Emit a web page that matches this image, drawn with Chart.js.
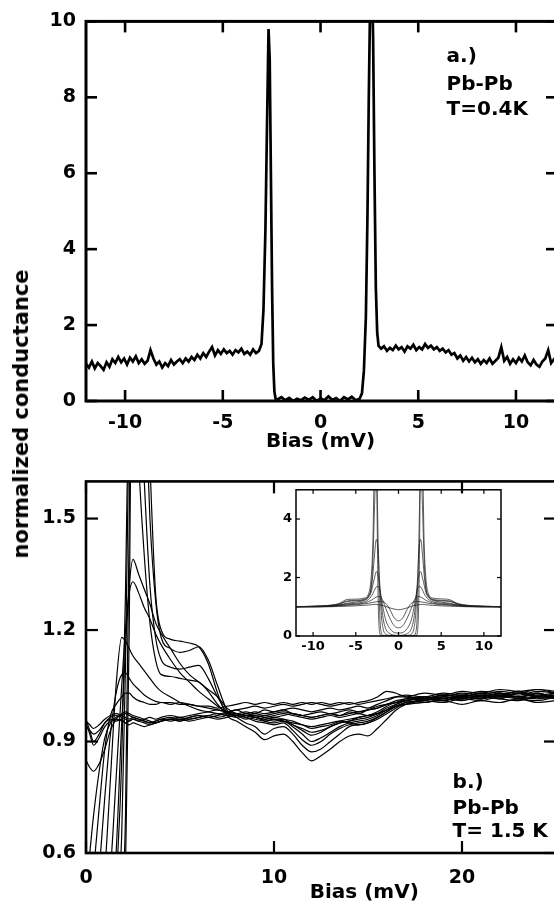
<!DOCTYPE html>
<html>
<head>
<meta charset="utf-8">
<script src="https://cdn.jsdelivr.net/npm/chart.js@4.4.1/dist/chart.umd.min.js"></script>
<style>
  html, body { margin: 0; padding: 0; background: #fff; }
  body { width: 554px; height: 907px; overflow: hidden; position: relative; }
  canvas { position: absolute; }
  #yTitle {
    position: absolute; left: 21px; top: 414px;
    transform: translate(-50%, -50%) rotate(-90deg);
    font: bold 21px "DejaVu Sans", sans-serif; white-space: nowrap; color: #000;
  }
</style>
</head>
<body>
<canvas id="chartA" width="600" height="460" style="left:0;top:0"></canvas>
<canvas id="chartB" width="600" height="447" style="left:0;top:460px"></canvas>
<canvas id="chartInset" width="250" height="175" style="left:260px;top:478px"></canvas>
<div id="yTitle">normalized conductance</div>
<script>
// ---- panel a: Pb-Pb, T = 0.4 K ----
const biasA = [
  -12.0,-11.85,-11.7,-11.55,-11.4,-11.25,-11.1,-10.95,-10.8,-10.65,
  -10.5,-10.35,-10.2,-10.05,-9.9,-9.75,-9.6,-9.45,-9.3,-9.15,
  -9.0,-8.85,-8.7,-8.55,-8.4,-8.25,-8.1,-7.95,-7.8,-7.65,
  -7.5,-7.35,-7.2,-7.05,-6.9,-6.75,-6.6,-6.45,-6.3,-6.15,
  -6.0,-5.85,-5.7,-5.55,-5.4,-5.25,-5.1,-4.95,-4.8,-4.65,
  -4.5,-4.35,-4.2,-4.05,-3.9,-3.75,-3.6,-3.45,-3.3,-3.15,
  -3.02,-2.92,-2.82,-2.74,-2.66,-2.6,-2.54,-2.48,-2.42,-2.36,-2.3,
  -2.2,-2.0,-1.8,-1.6,-1.4,-1.2,-1.0,-0.8,-0.6,-0.4,-0.2,
  0.0,0.2,0.4,0.6,0.8,1.0,1.2,1.4,1.6,1.8,2.0,
  2.12,2.22,2.32,2.4,2.47,2.54,2.62,2.69,2.76,2.83,2.9,2.97,
  3.1,3.25,3.4,3.55,3.7,3.85,4.0,4.15,4.3,4.45,
  4.6,4.75,4.9,5.05,5.2,5.35,5.5,5.65,5.8,5.95,
  6.1,6.25,6.4,6.55,6.7,6.85,7.0,7.15,7.3,7.45,
  7.6,7.75,7.9,8.05,8.2,8.35,8.5,8.65,8.8,8.95,
  9.1,9.25,9.4,9.55,9.7,9.85,10.0,10.15,10.3,10.45,
  10.6,10.75,10.9,11.05,11.2,11.35,11.5,11.65,11.8,11.95,12.1
];
const gA = [
  0.98,0.88,1.04,0.86,1.0,0.92,0.82,1.02,0.9,1.1,
  1.0,1.16,1.02,1.12,0.96,1.14,1.04,1.18,1.0,1.1,
  0.98,1.06,1.34,1.12,0.96,1.04,0.88,1.0,0.92,1.08,
  0.96,1.04,1.1,1.0,1.12,1.04,1.16,1.08,1.22,1.12,
  1.26,1.16,1.3,1.42,1.2,1.34,1.24,1.36,1.26,1.32,
  1.22,1.34,1.28,1.38,1.24,1.3,1.22,1.36,1.26,1.32,
  1.5,2.4,4.5,7.2,9.8,9.0,6.0,3.0,1.0,0.25,0.06,
  0.04,0.1,0.02,0.08,0.0,0.06,0.02,0.09,0.03,0.1,0.0,
  0.07,0.02,0.12,0.03,0.08,0.0,0.1,0.04,0.11,0.02,0.06,
  0.2,0.8,2.2,4.8,8.0,10.6,11.2,9.6,6.0,3.0,1.8,1.45,
  1.38,1.44,1.32,1.4,1.34,1.46,1.36,1.42,1.3,1.44,
  1.38,1.48,1.34,1.42,1.36,1.5,1.4,1.46,1.36,1.42,
  1.32,1.38,1.28,1.34,1.22,1.26,1.12,1.2,1.06,1.16,
  1.04,1.14,1.02,1.1,0.98,1.08,1.0,1.12,0.98,1.06,
  1.14,1.42,1.06,1.16,0.98,1.1,1.0,1.14,1.04,1.2,
  1.02,0.94,1.08,0.96,0.9,1.04,1.12,1.34,1.0,1.1,1.04
];

// ---- panel b: Pb-Pb, T = 1.5 K, several contacts ----
const biasB = [0,0.2,0.4,0.7,1.0,1.3,1.6,1.9,2.1,2.3,2.5,2.8,3.1,3.4,3.7,4.0,4.5,5.0,5.5,6.0,
  6.5,7.0,7.5,8.0,8.5,9.0,9.5,10,10.5,11,11.5,12,12.5,13,13.5,14,14.5,15,15.5,16,
  16.5,17,18,19,20,21,22,23,24,25];
const gB1 = [0,0,0,0,0,0.05,0.15,0.35,0.55,1.2,2.4,2.6,2.1,1.65,1.3,1.2,1.175,1.17,1.165,1.155,
  1.11,1.03,0.97,0.955,0.94,0.925,0.905,0.915,0.92,0.9,0.87,0.848,0.862,0.88,0.9,0.915,0.92,0.915,0.935,0.96,
  0.985,1.0,1.015,1.02,1.03,1.025,1.035,1.03,1.04,1.03];
const gB2 = [0,0,0,0,0.02,0.1,0.25,0.45,0.7,1.5,2.3,2.4,1.9,1.5,1.28,1.18,1.15,1.14,1.145,1.155,
  1.12,1.05,0.985,0.965,0.95,0.94,0.92,0.935,0.94,0.92,0.89,0.872,0.88,0.9,0.92,0.94,0.945,0.95,0.96,0.975,
  0.99,1.005,1.01,1.025,1.02,1.03,1.025,1.035,1.025,1.03];
const gB3 = [0,0,0.02,0.05,0.12,0.25,0.4,0.65,1.1,1.8,2.2,1.95,1.6,1.32,1.18,1.12,1.1,1.095,1.1,1.105,
  1.07,1.02,0.98,0.97,0.965,0.955,0.95,0.945,0.95,0.93,0.905,0.89,0.9,0.92,0.935,0.945,0.95,0.955,0.965,0.98,
  0.995,1.005,1.01,1.02,1.015,1.025,1.02,1.03,1.02,1.025];
const gB4 = [0,0,0.05,0.12,0.22,0.36,0.52,0.85,1.3,1.9,2.0,1.65,1.4,1.22,1.12,1.08,1.075,1.07,1.065,1.06,
  1.035,1.0,0.975,0.97,0.96,0.965,0.955,0.95,0.955,0.94,0.92,0.9,0.91,0.925,0.94,0.95,0.955,0.96,0.97,0.985,
  1.0,1.01,1.015,1.01,1.02,1.015,1.025,1.02,1.03,1.015];
const gB5 = [0,0,0.05,0.15,0.28,0.42,0.6,0.95,1.15,1.32,1.39,1.35,1.31,1.27,1.22,1.19,1.15,1.11,1.08,1.06,
  1.04,1.02,0.99,0.975,0.97,0.965,0.96,0.955,0.96,0.945,0.935,0.925,0.93,0.94,0.95,0.955,0.96,0.965,0.975,0.99,
  1.0,1.01,1.015,1.025,1.02,1.015,1.03,1.02,1.025,1.02];
const gB6 = [0,0.05,0.12,0.25,0.38,0.55,0.8,1.05,1.2,1.3,1.33,1.3,1.26,1.23,1.19,1.16,1.12,1.085,1.06,1.035,
  1.015,0.995,0.98,0.975,0.97,0.97,0.965,0.96,0.955,0.945,0.93,0.917,0.925,0.94,0.95,0.955,0.965,0.97,0.98,0.995,
  1.005,1.01,1.02,1.015,1.025,1.02,1.03,1.015,1.02,1.025];
const gB7 = [0.05,0.12,0.22,0.38,0.55,0.8,1.05,1.18,1.17,1.15,1.13,1.11,1.09,1.07,1.05,1.035,1.02,1.005,0.995,0.985,
  0.98,0.975,0.97,0.975,0.97,0.965,0.96,0.965,0.96,0.955,0.945,0.935,0.94,0.945,0.955,0.96,0.965,0.97,0.975,0.985,
  0.995,1.005,1.01,1.02,1.015,1.025,1.02,1.02,1.03,1.015];
const gB8 = [0.15,0.25,0.38,0.55,0.75,0.92,1.03,1.08,1.085,1.07,1.055,1.04,1.025,1.015,1.008,1.005,1.005,1.0,1.0,0.995,
  0.99,0.985,0.98,0.985,0.975,0.98,0.975,0.98,0.985,0.975,0.97,0.965,0.97,0.975,0.97,0.98,0.975,0.985,0.99,1.0,
  1.005,1.015,1.02,1.01,1.025,1.02,1.015,1.03,1.02,1.025];
const gB9 = [0.3,0.42,0.55,0.72,0.88,0.97,1.0,1.02,1.03,1.03,1.02,1.01,1.005,1.0,1.0,1.005,1.0,1.005,1.0,0.995,
  0.995,0.99,0.995,1.0,1.005,1.0,1.005,1.0,1.005,1.0,1.005,1.0,1.005,1.0,1.005,1.0,1.005,1.01,1.02,1.035,
  1.03,1.02,1.015,1.025,1.02,1.03,1.025,1.035,1.02,1.03];
const gB10 = [0.5,0.6,0.7,0.82,0.91,0.95,0.965,0.97,0.975,0.97,0.965,0.96,0.955,0.95,0.955,0.96,0.965,0.96,0.965,0.97,
  0.965,0.97,0.975,0.97,0.975,0.97,0.965,0.97,0.975,0.97,0.965,0.96,0.965,0.97,0.965,0.97,0.975,0.97,0.975,0.985,
  0.995,1.0,1.01,1.005,1.015,1.01,1.02,1.015,1.01,1.02];
const gB11 = [0.85,0.83,0.82,0.84,0.88,0.93,0.96,0.975,0.98,0.975,0.97,0.965,0.96,0.955,0.95,0.955,0.96,0.955,0.96,0.965,
  0.97,0.965,0.97,0.975,0.97,0.965,0.97,0.965,0.97,0.975,0.97,0.965,0.97,0.975,0.97,0.975,0.98,0.985,0.99,1.0,
  1.01,1.015,1.02,1.01,1.02,1.015,1.025,1.02,1.015,1.02];
const gB12 = [0.95,0.92,0.89,0.91,0.94,0.955,0.96,0.955,0.95,0.945,0.95,0.945,0.94,0.945,0.95,0.955,0.96,0.965,0.96,0.965,
  0.97,0.975,0.97,0.965,0.97,0.975,0.97,0.975,0.98,0.975,0.97,0.975,0.98,0.975,0.98,0.985,0.98,0.985,0.995,1.0,
  1.005,1.01,1.005,1.015,1.01,1.02,1.015,1.01,1.02,1.015];
const gB13 = [0.96,0.93,0.9,0.92,0.95,0.965,0.97,0.965,0.96,0.955,0.96,0.955,0.95,0.945,0.95,0.955,0.96,0.955,0.965,0.97,
  0.965,0.97,0.98,0.975,0.98,0.975,0.985,0.98,0.985,0.99,0.985,0.98,0.985,0.99,0.985,0.99,0.995,0.99,1.0,1.01,
  1.02,1.025,1.02,1.03,1.025,1.035,1.03,1.025,1.035,1.03];
const gB14 = [0.94,0.93,0.92,0.93,0.95,0.96,0.955,0.96,0.95,0.955,0.96,0.955,0.96,0.965,0.96,0.965,0.97,0.965,0.97,0.975,
  0.98,0.985,0.98,0.985,0.99,0.995,0.99,0.995,1.0,0.995,1.0,1.005,1.0,0.995,1.0,1.005,1.0,1.005,1.01,1.015,
  1.02,1.02,1.03,1.025,1.035,1.03,1.04,1.035,1.04,1.035];
const gB15 = [0.955,0.945,0.935,0.945,0.96,0.97,0.975,0.97,0.965,0.96,0.965,0.96,0.955,0.95,0.955,0.96,0.955,0.96,0.955,0.96,
  0.965,0.96,0.965,0.97,0.965,0.96,0.955,0.96,0.955,0.95,0.945,0.94,0.945,0.95,0.955,0.95,0.945,0.95,0.965,0.98,
  0.995,1.0,1.005,1.01,1.0,1.01,1.005,1.015,1.005,1.01];

// ---- inset: full bias range ----
const biasIn = [-12,-10,-8,-7,-6,-5,-4,-3.5,-3.2,-3,-2.8,-2.6,-2.4,-2.2,-2,-1.8,-1.5,-1,-0.5,0,
  0.5,1,1.5,1.8,2,2.2,2.4,2.6,2.8,3,3.2,3.5,4,5,6,7,8,10,12];
const gIn1 = [1.0,1.02,1.05,1.1,1.25,1.26,1.3,1.45,2.0,3.2,6.0,6.0,1.5,0.1,0,0,0,0,0,0,
  0,0,0,0,0,0.1,1.5,6.0,6.0,3.2,2.0,1.45,1.3,1.27,1.24,1.1,1.05,1.02,1.0];
const gIn2 = [1.0,1.01,1.04,1.08,1.2,1.22,1.26,1.38,1.7,2.6,4.5,6.0,3.5,0.8,0.1,0.02,0,0,0,0,
  0,0,0,0.02,0.1,0.8,3.5,6.0,4.5,2.6,1.7,1.38,1.26,1.22,1.2,1.08,1.04,1.01,1.0];
const gIn3 = [1.0,1.02,1.05,1.1,1.18,1.2,1.24,1.36,1.6,2.1,2.8,3.3,3.0,1.8,0.7,0.25,0.06,0.02,0,0,
  0,0.02,0.06,0.25,0.7,1.8,3.0,3.3,2.8,2.1,1.6,1.36,1.24,1.2,1.18,1.1,1.05,1.02,1.0];
const gIn4 = [1.0,1.01,1.03,1.06,1.12,1.16,1.22,1.32,1.5,1.75,2.0,2.2,2.1,1.7,1.1,0.6,0.25,0.08,0.03,0.02,
  0.03,0.08,0.25,0.6,1.1,1.7,2.1,2.2,2.0,1.75,1.5,1.32,1.22,1.16,1.12,1.06,1.03,1.01,1.0];
const gIn5 = [1.0,1.0,1.02,1.05,1.1,1.12,1.17,1.25,1.35,1.45,1.58,1.68,1.7,1.6,1.3,0.95,0.55,0.25,0.12,0.1,
  0.12,0.25,0.55,0.95,1.3,1.6,1.7,1.68,1.58,1.45,1.35,1.25,1.17,1.12,1.1,1.05,1.02,1.0,1.0];
const gIn6 = [1.0,1.0,1.02,1.04,1.07,1.09,1.13,1.18,1.22,1.26,1.3,1.33,1.35,1.35,1.3,1.2,0.95,0.6,0.35,0.28,
  0.35,0.6,0.95,1.2,1.3,1.35,1.35,1.33,1.3,1.26,1.22,1.18,1.13,1.09,1.07,1.04,1.02,1.0,1.0];
const gIn7 = [1.0,1.0,1.01,1.03,1.05,1.07,1.1,1.12,1.14,1.15,1.16,1.17,1.18,1.18,1.18,1.17,1.12,0.9,0.62,0.52,
  0.62,0.9,1.12,1.17,1.18,1.18,1.18,1.17,1.16,1.15,1.14,1.12,1.1,1.07,1.05,1.03,1.01,1.0,1.0];
const gIn8 = [1.0,1.0,1.0,1.01,1.02,1.03,1.05,1.06,1.07,1.08,1.08,1.08,1.07,1.06,1.05,1.04,1.01,0.96,0.92,0.9,
  0.92,0.96,1.01,1.04,1.05,1.06,1.07,1.08,1.08,1.08,1.07,1.06,1.05,1.03,1.02,1.01,1.0,1.0,1.0];

const notesA = [
  {text: 'a.)', x: 6.45, y: 8.92},
  {text: 'Pb-Pb', x: 6.45, y: 8.2},
  {text: 'T=0.4K', x: 6.45, y: 7.53}
];
const notesB = [
  {text: 'b.)', x: 19.5, y: 0.776},
  {text: 'Pb-Pb', x: 19.5, y: 0.706},
  {text: 'T= 1.5 K', x: 19.5, y: 0.642}
];

const FONT = '"DejaVu Sans", sans-serif';
const isMajor = (v, step) => Math.abs(v / step - Math.round(v / step)) < 1e-6;
const pts = (xs, ys) => xs.map((b, i) => ({x: b, y: ys[i]}));

// inward tick marks on all four sides plus the box
function frameTicks(cfg) {
  return {
    id: 'frameTicks',
    afterDatasetsDraw(chart) {
      const {ctx, chartArea: a, scales} = chart;
      const w = cfg.tickWidth;
      ctx.save();
      ctx.fillStyle = '#000';
      scales.x.ticks.forEach(t => {
        const p = scales.x.getPixelForValue(t.value);
        const len = isMajor(t.value, cfg.xMajor) ? cfg.xLong : cfg.xShort;
        ctx.fillRect(p - w / 2, a.bottom - len, w, len);
        ctx.fillRect(p - w / 2, a.top, w, len);
      });
      scales.y.ticks.forEach(t => {
        const p = scales.y.getPixelForValue(t.value);
        const len = isMajor(t.value, cfg.yMajor) ? cfg.yLong : cfg.yShort;
        ctx.fillRect(a.left, p - w / 2, len, w);
        ctx.fillRect(a.right - len, p - w / 2, len, w);
      });
      ctx.strokeStyle = '#000';
      ctx.lineWidth = cfg.frameWidth;
      ctx.strokeRect(a.left, a.top, a.right - a.left, a.bottom - a.top);
      ctx.restore();
    }
  };
}

function notes(items, font, align) {
  return {
    id: 'notes',
    afterDatasetsDraw(chart) {
      const {ctx, scales: {x, y}} = chart;
      ctx.save();
      ctx.fillStyle = '#000';
      ctx.font = font;
      ctx.textAlign = align || 'left';
      ctx.textBaseline = 'alphabetic';
      items.forEach(n => ctx.fillText(n.text, x.getPixelForValue(n.x), y.getPixelForValue(n.y)));
      ctx.restore();
    }
  };
}

function axis(opts) {
  return Object.assign({
    type: 'linear',
    grid: {display: false, drawTicks: false},
    border: {display: false}
  }, opts);
}

// panel a
new Chart(document.getElementById('chartA'), {
  type: 'line',
  data: {
    datasets: [{
      data: pts(biasA, gA),
      borderColor: '#000', borderWidth: 2.7,
      pointRadius: 0, tension: 0
    }]
  },
  options: {
    responsive: false, animation: false,
    layout: {padding: {top: 15, right: 43, left: 0, bottom: 0}},
    plugins: {legend: {display: false}, tooltip: {enabled: false}},
    scales: {
      x: axis({
        min: -12, max: 12.1,
        afterFit: s => { s.height = 59; },
        ticks: {stepSize: 2.5, includeBounds: false, autoSkip: false, maxRotation: 0, padding: 11,
                color: '#000', font: {family: FONT, size: 19, weight: 'bold'},
                callback: v => isMajor(v, 5) ? String(v) : null}
      }),
      y: axis({
        min: 0, max: 10,
        afterFit: s => { s.width = 86; },
        ticks: {stepSize: 1, autoSkip: false, padding: 10,
                color: '#000', font: {family: FONT, size: 19, weight: 'bold'},
                callback: v => isMajor(v, 2) ? String(v) : null}
      })
    }
  },
  plugins: [
    frameTicks({xMajor: 5, xLong: 11, xShort: 7, yMajor: 2, yLong: 11, yShort: 7, tickWidth: 2.6, frameWidth: 3}),
    notes(notesA, 'bold 20px ' + FONT),
    notes([{text: 'Bias (mV)', x: 0, y: -1.2}], 'bold 20px ' + FONT, 'center')
  ]
});

// panel b
const curvesB = [gB1, gB2, gB3, gB4, gB5, gB6, gB7, gB8, gB9, gB10, gB11, gB12, gB13, gB14, gB15];
new Chart(document.getElementById('chartB'), {
  type: 'line',
  data: {
    datasets: curvesB.map(g => ({
      data: pts(biasB, g),
      borderColor: '#000', borderWidth: 1.2,
      pointRadius: 0, cubicInterpolationMode: 'monotone'
    }))
  },
  options: {
    responsive: false, animation: false,
    layout: {padding: {top: 8, right: 44, left: 0, bottom: 0}},
    plugins: {legend: {display: false}, tooltip: {enabled: false}},
    scales: {
      x: axis({
        min: 0, max: 25,
        afterFit: s => { s.height = 54; },
        ticks: {stepSize: 5 / 3, autoSkip: false, maxRotation: 0, padding: 14,
                color: '#000', font: {family: FONT, size: 19, weight: 'bold'},
                callback: v => isMajor(v, 10) ? String(Math.round(v)) : null}
      }),
      y: axis({
        min: 0.6, max: 1.6,
        afterFit: s => { s.width = 86; },
        ticks: {stepSize: 0.05, autoSkip: false, padding: 10,
                color: '#000', font: {family: FONT, size: 19, weight: 'bold'},
                callback: v => isMajor(v, 0.3) ? v.toFixed(1) : null}
      })
    }
  },
  plugins: [
    frameTicks({xMajor: 10, xLong: 12, xShort: 6, yMajor: 0.3, yLong: 12, yShort: 8, tickWidth: 2.2, frameWidth: 2.6}),
    notes(notesB, 'bold 20px ' + FONT),
    notes([{text: 'Bias (mV)', x: 14.8, y: 0.48}], 'bold 20px ' + FONT, 'center')
  ]
});

// inset
const curvesIn = [gIn1, gIn2, gIn3, gIn4, gIn5, gIn6, gIn7, gIn8];
new Chart(document.getElementById('chartInset'), {
  type: 'line',
  data: {
    datasets: curvesIn.map(g => ({
      data: pts(biasIn, g),
      borderColor: 'rgba(30,30,30,0.8)', borderWidth: 0.9,
      pointRadius: 0, cubicInterpolationMode: 'monotone'
    }))
  },
  options: {
    responsive: false, animation: false,
    layout: {padding: {top: 5, right: 9, left: 0, bottom: 0}},
    plugins: {legend: {display: false}, tooltip: {enabled: false}},
    scales: {
      x: axis({
        min: -12, max: 12,
        afterFit: s => { s.height = 17; },
        ticks: {stepSize: 2.5, includeBounds: false, autoSkip: false, maxRotation: 0, padding: 3,
                color: '#000', font: {family: FONT, size: 13, weight: 'bold'},
                callback: v => isMajor(v, 5) ? String(v) : null}
      }),
      y: axis({
        min: 0, max: 5,
        afterFit: s => { s.width = 36; },
        ticks: {stepSize: 1, autoSkip: false, padding: 4,
                color: '#000', font: {family: FONT, size: 13, weight: 'bold'},
                callback: v => isMajor(v, 2) ? String(v) : null}
      })
    }
  },
  plugins: [
    frameTicks({xMajor: 5, xLong: 4, xShort: 2.5, yMajor: 2, yLong: 4, yShort: 2.5, tickWidth: 1.2, frameWidth: 1.5})
  ]
});
</script>
</body>
</html>
